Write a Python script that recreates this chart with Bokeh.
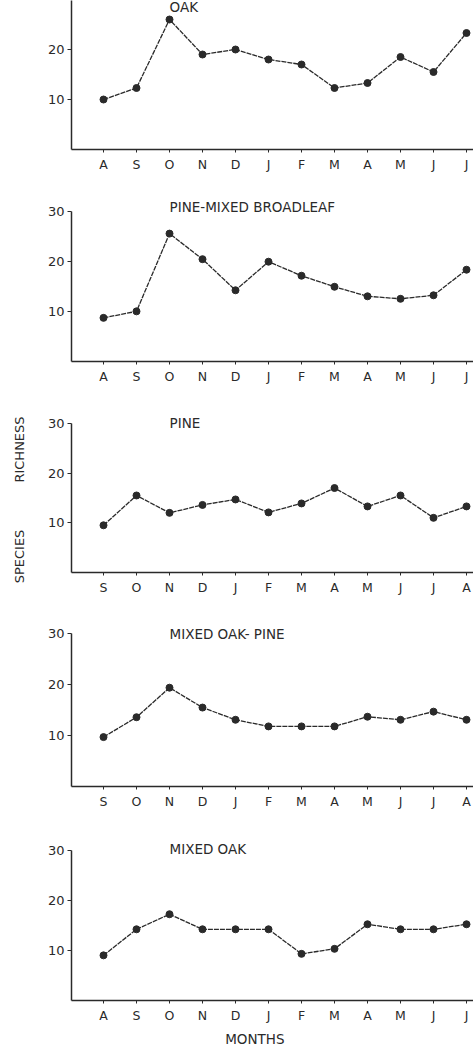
import math
from bokeh.plotting import figure
from bokeh.layouts import column, row
from bokeh.models import Range1d, FixedTicker, Label
from bokeh.core.properties import value
from bokeh.embed import file_html
from bokeh.resources import INLINE

# ---- data ----
months_aug = ["A", "S", "O", "N", "D", "J", "F", "M", "A", "M", "J", "J"]
months_sep = ["S", "O", "N", "D", "J", "F", "M", "A", "M", "J", "J", "A"]

oak = [10, 12.3, 26, 19, 20, 18, 17, 12.3, 13.3, 18.5, 15.5, 23.3]
pine_mixed_broadleaf = [8.7, 10, 25.5, 20.4, 14.2, 19.9, 17.1, 14.9, 13, 12.5, 13.2, 18.3]
pine = [9.5, 15.5, 12, 13.6, 14.7, 12.1, 13.9, 17, 13.3, 15.5, 11, 13.3]
mixed_oak_pine = [9.7, 13.6, 19.4, 15.5, 13.1, 11.8, 11.8, 11.8, 13.7, 13.1, 14.7, 13.1]
mixed_oak = [9, 14.2, 17.2, 14.2, 14.2, 14.2, 9.3, 10.3, 15.2, 14.2, 14.2, 15.2]

y_ticks = [10, 20, 30]
titles = ["OAK", "PINE-MIXED BROADLEAF", "PINE", "MIXED OAK- PINE", "MIXED OAK"]
y_words = ["SPECIES", "RICHNESS"]
x_title = "MONTHS"

# ---- styling / layout ----
INK = "#2a2a2a"
FONT = "DejaVu Sans"
TOTAL_W = 473
TOTAL_H = 1049
SIDE_W = 30
W = TOTAL_W - SIDE_W
LEFT = 41

# (height, border_top, border_bottom, y_end, title_y)
layout_specs = [
    (185, 0, 36, 29.8, 28.6),
    (205, 15, 29, 32.1, 30.8),
    (222, 22, 40, 32.2, 30.0),
    (213, 10, 39, 32.2, 30.0),
    (205, 10, 30, 32.9, 30.3),
]
MONTHS_H = TOTAL_H - sum(s[0] for s in layout_specs)

series = [
    (oak, months_aug),
    (pine_mixed_broadleaf, months_aug),
    (pine, months_sep),
    (mixed_oak_pine, months_sep),
    (mixed_oak, months_aug),
]

x_start = -0.97
x_end = x_start + (W - LEFT) / 33.0


def blank(width, height, xr, yr):
    p = figure(width=width, height=height, output_backend="svg", toolbar_location=None,
               x_range=Range1d(*xr), y_range=Range1d(*yr),
               x_axis_location=None, y_axis_location=None,
               min_border=0, background_fill_color="white", border_fill_color="white")
    p.outline_line_color = None
    p.grid.visible = False
    return p


def make_panel(vals, months, title, spec):
    h, bt, bb, yend, ty = spec
    p = figure(width=W, height=h, output_backend="svg", toolbar_location=None,
               x_range=Range1d(x_start, x_end), y_range=Range1d(0, yend),
               min_border_left=LEFT, min_border_right=0,
               min_border_top=bt, min_border_bottom=bb,
               background_fill_color="white", border_fill_color="white")
    p.outline_line_color = None
    p.grid.visible = False
    xs = list(range(len(vals)))
    p.line(xs, vals, line_color=INK, line_width=1.3, line_dash="5 1")
    p.scatter(xs, vals, size=7, fill_color=INK, line_color=INK)

    xa = p.xaxis[0]
    xa.ticker = FixedTicker(ticks=xs)
    xa.major_label_overrides = {i: m for i, m in enumerate(months)}
    xa.minor_tick_line_color = None
    xa.major_tick_in = 0
    xa.major_tick_out = 3
    xa.major_label_standoff = 4
    xa.axis_line_width = 1.5
    xa.axis_line_color = INK
    xa.major_tick_line_color = INK
    xa.major_label_text_font = FONT
    xa.major_label_text_font_size = "12.5px"
    xa.major_label_text_color = INK

    ya = p.yaxis[0]
    ya.ticker = FixedTicker(ticks=y_ticks)
    ya.bounds = (0, 30)
    ya.minor_tick_line_color = None
    ya.major_tick_in = 0
    ya.major_tick_out = 4
    ya.major_label_standoff = 3
    ya.axis_line_width = 1.5
    ya.axis_line_color = INK
    ya.major_tick_line_color = INK
    ya.major_label_text_font = FONT
    ya.major_label_text_font_size = "13px"
    ya.major_label_text_color = INK

    p.add_layout(Label(x=2.0, y=ty, text=title, text_font=FONT,
                       text_font_size="13.5px", text_color=INK,
                       text_align="left", text_baseline="middle"))
    return p


panels = []
for (vals, months), title, spec in zip(series, titles, layout_specs):
    panels.append(make_panel(vals, months, title, spec))

# x-axis title strip under the last panel
months_fig = blank(W, MONTHS_H, (0, W), (0, MONTHS_H))
months_fig.text(x=[202], y=[MONTHS_H - 8], text=[x_title], text_font=value(FONT),
                text_font_size="13.5px", text_color=INK, text_align="center",
                text_baseline="middle")

# y-axis title strip on the left
side = blank(SIDE_W, TOTAL_H, (0, SIDE_W), (0, TOTAL_H))
side.text(x=[19, 19], y=[TOTAL_H - 556, TOTAL_H - 449], text=y_words,
          angle=math.pi / 2, text_font=value(FONT), text_font_size="13px",
          text_color=INK, text_align="center", text_baseline="middle")

layout = row(side, column(*panels, months_fig, spacing=0), spacing=0)
open("out.html", "w").write(file_html(layout, INLINE))
